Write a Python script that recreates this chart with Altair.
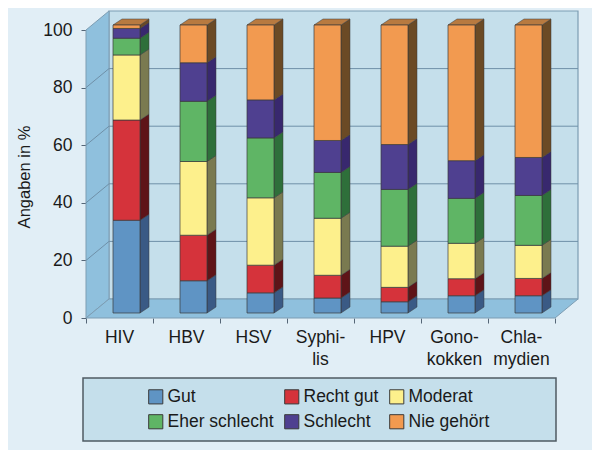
import altair as alt
import pandas as pd

categories = ["HIV", "HBV", "HSV", "Syphi-\nlis", "HPV", "Gono-\nkokken", "Chla-\nmydien"]
ratings = ["Gut", "Recht gut", "Moderat", "Eher schlecht", "Schlecht", "Nie gehört"]
gut = [32.2, 11.2, 7.0, 5.2, 3.9, 6.0, 6.0]
recht_gut = [34.8, 15.8, 9.6, 7.9, 5.0, 5.9, 6.0]
moderat = [22.6, 25.6, 23.4, 19.8, 14.3, 12.3, 11.5]
eher_schlecht = [5.8, 20.9, 20.8, 15.9, 19.7, 15.6, 17.3]
schlecht = [3.4, 13.4, 13.2, 11.1, 15.6, 13.1, 13.2]
nie_gehoert = [1.2, 13.1, 26.0, 40.1, 41.5, 47.1, 46.0]
series = [gut, recht_gut, moderat, eher_schlecht, schlecht, nie_gehoert]
front_colors = ["#5f94c4", "#d5333b", "#fdf08c", "#5fb565", "#4f4090", "#f29a50"]
side_colors = ["#3a5a85", "#5e1418", "#7a7a50", "#2e6f3a", "#38286e", "#6b4a25"]
top_color = "#b87a40"
y_ticks = [0, 20, 40, 60, 80, 100]
y_title = "Angaben in %"

W, H = 584, 442
PX_U, PX_V = 67.0, 2.88
X0, Y0 = 78, 310
WALL_DU, WALL_DV = 23 / PX_U, 19 / PX_V
BAR_DU, BAR_DV = 9 / PX_U, 6 / PX_V
BAR_LEFT, BAR_W = 27 / PX_U, 27 / PX_U
BAR_BASE = 5 / PX_V
n = len(categories)

X = alt.Scale(domain=[(0 - X0) / PX_U, (W - X0) / PX_U], nice=False, zero=False)
Y = alt.Scale(domain=[(Y0 - H) / PX_V, Y0 / PX_V], nice=False, zero=False)

fronts, sides, tops = [], [], []
for i in range(n):
    cum = 0.0
    left = i + BAR_LEFT
    right = left + BAR_W
    for s, name in enumerate(ratings):
        lo = cum + BAR_BASE
        cum += series[s][i]
        hi = cum + BAR_BASE
        fronts.append(dict(x=left, x2=right, y=lo, y2=hi, rating=name))
        key = f"{i}-{s}"
        sides.append(dict(k=key, x=right, y=lo, y2=hi, c=side_colors[s]))
        sides.append(dict(k=key, x=right + BAR_DU, y=lo + BAR_DV, y2=hi + BAR_DV, c=side_colors[s]))
    tops.append(dict(k=i, y=cum + BAR_BASE, x=left, x2=right))
    tops.append(dict(k=i, y=cum + BAR_BASE + BAR_DV, x=left + BAR_DU, x2=right + BAR_DU))


def ax(field):
    return alt.X(field, type="quantitative", scale=X, title=None)


def ay(field):
    return alt.Y(field, type="quantitative", scale=Y, title=None, stack=None)


def ax_free(field):
    return alt.X(field, type="quantitative", scale=X, title=None, stack=None)


wall_color = "#8fc0dd"
edge = "#7d9db3"

axes_layer = alt.Chart(pd.DataFrame(dict(x=[0], y=[0]))).mark_point(opacity=0).encode(
    x=alt.X("x:Q", scale=X, title=None, axis=alt.Axis(
        values=list(range(n + 1)), labels=False, domain=False, grid=False, ticks=True,
        tickSize=5, tickColor="#556677", offset=Y0 - H, title=None,
    )),
    y=alt.Y("y:Q", scale=Y, title=None, axis=alt.Axis(
        values=y_ticks, domain=False, grid=False, tickSize=5, tickColor="#556677", offset=-X0,
        labelFont="Liberation Sans", labelFontSize=17.5, labelColor="#1a1a1a", labelPadding=9,
    )),
)

back = alt.Chart(pd.DataFrame([dict(x=WALL_DU, x2=n + WALL_DU, y=WALL_DV, y2=100 + WALL_DV)])).mark_rect(
    fill="#c5dfeb", stroke=edge, strokeWidth=1.2
).encode(x=ax("x"), x2="x2:Q", y=ay("y"), y2="y2:Q")

left_wall = alt.Chart(pd.DataFrame([dict(x=0, y=0, y2=100), dict(x=WALL_DU, y=WALL_DV, y2=100 + WALL_DV)])).mark_area(
    fill=wall_color, stroke=edge, strokeWidth=1
).encode(x=ax("x"), y=ay("y"), y2="y2:Q")

floor = alt.Chart(pd.DataFrame([dict(y=0, x=0, x2=n), dict(y=WALL_DV, x=WALL_DU, x2=n + WALL_DU)])).mark_area(
    orient="horizontal", fill=wall_color, stroke=edge, strokeWidth=1
).encode(y=ay("y"), x=ax_free("x"), x2="x2:Q")

grid_rows = []
for v in y_ticks[1:-1]:
    grid_rows += [dict(v=v, x=0, y=v), dict(v=v, x=WALL_DU, y=v + WALL_DV), dict(v=v, x=n + WALL_DU, y=v + WALL_DV)]
grid = alt.Chart(pd.DataFrame(grid_rows)).mark_line(color="#6f90a8", strokeWidth=1).encode(
    x=ax("x"), y=ay("y"), detail="v:N"
)

side_layer = alt.Chart(pd.DataFrame(sides)).mark_area(stroke="#3a3a3a", strokeWidth=0.5).encode(
    x=ax("x"), y=ay("y"), y2="y2:Q", detail="k:N",
    fill=alt.Fill("c:N", scale=None),
)
top_layer = alt.Chart(pd.DataFrame(tops)).mark_area(orient="horizontal", fill=top_color, stroke="#3a3a3a", strokeWidth=0.5).encode(
    y=ay("y"), x=ax_free("x"), x2="x2:Q", detail="k:N"
)
front_layer = alt.Chart(pd.DataFrame(fronts)).mark_rect(stroke="#3a3a3a", strokeWidth=0.7).encode(
    x=ax("x"), x2="x2:Q", y=ay("y"), y2="y2:Q",
    color=alt.Color(
        "rating:N",
        scale=alt.Scale(domain=ratings, range=front_colors),
        sort=ratings,
        legend=alt.Legend(
            title=None, orient="none", legendX=139, legendY=380, direction="horizontal", columns=3,
            symbolType="square", symbolSize=200, symbolStrokeColor="#3a3a3a", symbolStrokeWidth=1,
            labelFont="Liberation Sans", labelFontSize=17.5, labelColor="#1a1a1a", labelLimit=200,
            labelOffset=3, columnPadding=8, rowPadding=6,
        ),
    ),
)

labels = alt.Chart(pd.DataFrame(dict(c=categories, x=[i + 0.5 for i in range(n)], y=[-3.8] * n))).mark_text(
    font="Liberation Sans", fontSize=17.5, color="#1a1a1a", baseline="top", align="center", lineBreak="\n", lineHeight=22
).encode(x=ax("x"), y=ay("y"), text="c:N")

title_layer = alt.Chart(pd.DataFrame(dict(t=[y_title]))).mark_text(
    font="Liberation Sans", fontSize=16.5, color="#1a1a1a", angle=270, align="center", baseline="middle"
).encode(x=alt.value(17), y=alt.value(169), text="t:N")

legend_box = alt.Chart(alt.Data(values=[{"a": 1}])).mark_rect(
    fill="#c5dfeb", stroke="#4f5b63", strokeWidth=1.5
).encode(x=alt.value(75), x2=alt.value(548), y=alt.value(370), y2=alt.value(433))

chart = alt.layer(
    axes_layer, back, left_wall, floor, grid, side_layer, top_layer, front_layer, labels, title_layer, legend_box
).properties(
    width=W, height=H, padding=0, background="#e1eef6", autosize=alt.AutoSizeParams(type="none")
).configure_view(stroke=None)

chart.save("out.html", embed_options={"renderer": "svg", "actions": False})
